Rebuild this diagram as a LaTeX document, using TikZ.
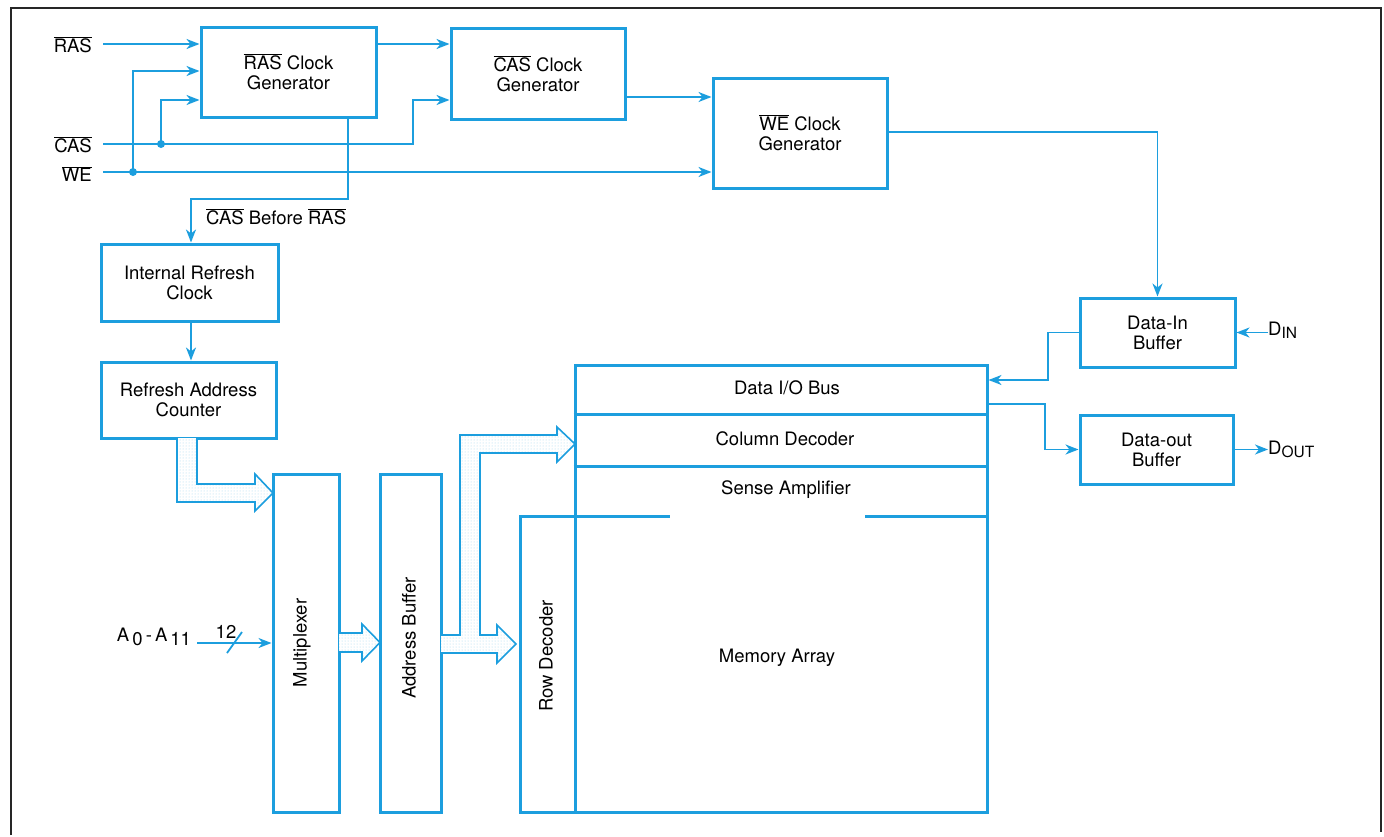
\documentclass[tikz,border=0pt]{standalone}
\usepackage{fontspec}
\setmainfont{TeX Gyre Heros}
\usetikzlibrary{arrows.meta,patterns,calc}
\definecolor{wire}{RGB}{28,158,222}
\newcommand{\ovl}[1]{$\overline{\hbox{#1}}$}
\newcommand{\txt}{\fontsize{18.5}{20}\selectfont}
\tikzset{
  blk/.style={draw=wire, line width=3pt, rectangle, align=center, inner sep=0pt, font=\txt},
  lbl/.style={inner sep=0pt, align=center, font=\txt},
  conn/.style={draw=wire, line width=1.8pt, -{Stealth[length=13pt,width=10pt,inset=4pt]}},
  plain/.style={draw=wire, line width=1.8pt},
  rule/.style={draw=wire, line width=3pt},
  fat/.style={draw=wire, line width=1.6pt, line join=miter, preaction={fill=white}, pattern=dots, pattern color=wire!40},
  dot/.style={fill=wire}
}
\begin{document}
\begin{tikzpicture}[x=1pt,y=-1pt]
\useasboundingbox (0,0) rectangle (1384,836);
% outer frame
\draw[line width=1.8pt, black!85] (11,835) -- (11,8) -- (1381,8) -- (1381,832);

% clock generators
\node[blk, minimum width=175pt, minimum height=90pt] (rasg) at (288.5,72) {\ovl{RAS} Clock\\Generator};
\node[blk, minimum width=174pt, minimum height=91pt] (casg) at (538,73.5) {\ovl{CAS} Clock\\Generator};
\node[blk, minimum width=174pt, minimum height=110pt] (weg) at (800,133) {\ovl{WE} Clock\\Generator};

% refresh path
\node[blk, minimum width=177pt, minimum height=77pt] (irc) at (189.5,282.5) {Internal Refresh\\Clock};
\node[blk, minimum width=175pt, minimum height=76pt] (rac) at (188.5,400) {Refresh Address\\Counter};

% address path
\node[blk, minimum width=66pt, minimum height=338pt] (mux) at (306,643) {};
\node[lbl, rotate=90] (muxt) at (302,643) {Multiplexer};
\node[blk, minimum width=61pt, minimum height=338pt] (abuf) at (410.5,643) {};
\node[lbl, rotate=90] (abuft) at (409,638) {Address Buffer};

% memory block
\node[blk, minimum width=412pt, minimum height=447pt] (mem) at (781,588.5) {};
\draw[rule] (mem.west |- 0,414) -- (mem.east |- 0,414);
\draw[rule] (mem.west |- 0,466) -- (mem.east |- 0,466);
\node[blk, minimum width=55pt, minimum height=296pt] (rowdec) at (547.5,664) {};
\node[lbl, rotate=90] (rowdect) at (546,656) {Row Decoder};
\draw[rule] (mem.west |- 0,516) -- (670,516);
\draw[rule] (865,516) -- (mem.east |- 0,516);
\node[lbl] (dio) at (787,388) {Data I/O Bus};
\node[lbl] (cold) at (785,439) {Column Decoder};
\node[lbl] (sens) at (786,490) {Sense Amplifier};
\node[lbl] (marr) at (777,658) {Memory Array};

% data buffers
\node[blk, minimum width=155pt, minimum height=69pt] (din) at (1157.5,332.5) {Data-In\\Buffer};
\node[blk, minimum width=153pt, minimum height=69pt] (dout) at (1156.5,449.5) {Data-out\\Buffer};

% pin labels
\node[lbl, anchor=east] (lras) at (92,45) {\ovl{RAS}};
\node[lbl, anchor=east] (lcas) at (92,145) {\ovl{CAS}};
\node[lbl, anchor=east] (lwe) at (92,174) {\ovl{WE}};
\node[lbl, anchor=west] (lcbr) at (206,217) {\ovl{CAS} Before \ovl{RAS}};
\node[lbl, anchor=west] (ldin) at (1268,330) {D\raisebox{-0.35ex}{\fontsize{15.5}{15}\selectfont IN}};
\node[lbl, anchor=west] (ldout) at (1268,449.5) {D\raisebox{-0.35ex}{\fontsize{15.5}{15}\selectfont OUT}};
\node[lbl] (laddr) at (154,637) {A\,\raisebox{-0.45ex}{0}\,-\,A\,\raisebox{-0.45ex}{11}};
\node[lbl] (lbits) at (226,632) {12};

% inputs
\coordinate (pras) at (103,44);
\coordinate (pcas) at (103,144);
\coordinate (pwe) at (103,172);
\coordinate (jwe) at (133,172);
\coordinate (jcas) at (161,144);
\coordinate (cbend) at (413,100);
\draw[conn] (pras) -- (rasg.west |- pras);
\draw[conn] (pwe) -- (weg.west |- pwe);
\draw[conn] (jwe) |- (rasg.west |- 0,71);
\draw[conn] (jcas) |- (rasg.west |- 0,100);
\draw[conn] (pcas) -| (cbend) -- (casg.west |- cbend);
\fill[dot] (jwe) circle (4pt);
\fill[dot] (jcas) circle (4pt);

% clock chain
\draw[conn] (rasg.east |- 0,44) -- (casg.west |- 0,44);
\draw[conn] (casg.east |- 0,97) -- (weg.west |- 0,97);
\draw[conn] (weg.east |- 0,132) -| (din.north);
\draw[conn] (rasg.south -| 348,0) |- (191,199) -- (irc.north -| 191,0);
\draw[conn] (irc.south -| 191,0) -- (rac.north -| 191,0);

% data I/O
\draw[conn] (din.west) -| (1048,380) -- (mem.east |- 0,380);
\draw[conn] (mem.east |- 0,404) -| (1045,449.5) -- (dout.west);
\draw[conn] (dout.east) -- (ldout.west);
\draw[conn] (ldin.west |- din.east) -- (din.east);

% address input
\coordinate (pa) at (197,643);
\draw[conn] (pa) -- (mux.west |- pa);
\draw[plain] (227,653) -- (242,632);

% wide bus arrows
\draw[fat] (177,438) -- (177,502) -- (255,502) -- (255,511) -- (273,493) -- (255,474) -- (255,484) -- (197,484) -- (197,438);
\draw[fat] (339,633) -- (362,633) -- (362,624) -- (380,642.5) -- (362,661) -- (362,652) -- (339,652);
\draw[fat] (441,635) -- (460,635) -- (460,435) -- (557,435) -- (557,427) -- (575,444) -- (557,462) -- (557,453) -- (480,453) -- (480,635) -- (497,635) -- (497,625) -- (516,644) -- (497,663) -- (497,653) -- (441,653);
\end{tikzpicture}
\end{document}
